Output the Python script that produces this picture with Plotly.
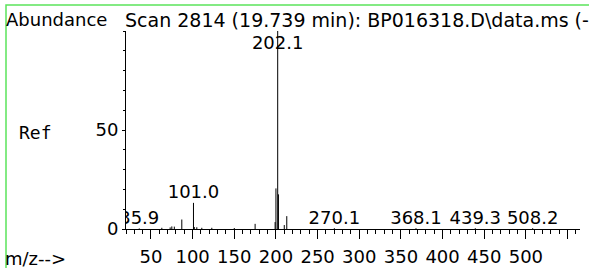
import plotly.graph_objects as go

# ---- data ----
mz = [35.9, 63, 73, 75, 78, 87, 101.0, 102, 105, 111, 123, 150, 175, 199, 200, 202.1, 203, 210, 213,
      270.1, 368.1, 439.3, 508.2]
abund = [0.3, 0.6, 0.8, 1.3, 1.2, 4.8, 13.2, 1.0, 0.9, 0.6, 0.6, 0.5, 2.6, 3.5, 20.5, 100, 17.5, 2.0, 6.5,
         0.4, 0.4, 0.4, 0.4]
label_mz = [35.9, 101.0, 202.1, 270.1, 368.1, 439.3, 508.2]
label_abund = [0.3, 13.2, 100, 0.4, 0.4, 0.4, 0.4]
label_text = ["35.9", "101.0", "202.1", "270.1", "368.1", "439.3", "508.2"]
x_tickvals = [50, 100, 150, 200, 250, 300, 350, 400, 450, 500, 550]
x_ticktext = ["50", "100", "150", "200", "250", "300", "350", "400", "450", "500", ""]
y_tickvals = [0, 50]
y_ticktext = ["0", "50"]
title_text = "Scan 2814 (19.739 min): BP016318.D\\data.ms (-)"

W, H = 589, 268
L, R, T, B = 126, 9, 31, 39
PW, PH = W - L - R, H - T - B

def px(x):
    return (x - L) / PW

def py(y):
    return (H - B - y) / PH

FONT = "DejaVu Sans"

# stick spectrum
xs, ys = [], []
for m, a in zip(mz, abund):
    xs += [m, m, None]
    ys += [0, a, None]

fig = go.Figure()
fig.add_trace(go.Scatter(x=xs, y=ys, mode="lines", line=dict(color="black", width=1),
                         hoverinfo="skip", showlegend=False))
fig.add_trace(go.Scatter(x=label_mz, y=[min(a, 88.5) for a in label_abund], mode="text",
                         text=label_text, textposition="top center",
                         textfont=dict(family=FONT, size=18, color="black"),
                         cliponaxis=True, showlegend=False, hoverinfo="skip"))

fig.update_layout(
    width=W, height=H, autosize=False,
    margin=dict(l=L, r=R, t=T, b=B, pad=0, autoexpand=False),
    paper_bgcolor="white", plot_bgcolor="white",
    font=dict(family=FONT, size=18, color="black"),
    xaxis=dict(range=[20, 565], showgrid=False, zeroline=False, showline=True, automargin=False,
               linecolor="black", linewidth=1, ticks="outside", ticklen=9, tickcolor="black",
               tickmode="array", tickvals=x_tickvals, ticktext=x_ticktext,
               minor=dict(dtick=10, tick0=0, ticks="outside", ticklen=4, tickcolor="black"),
               tickfont=dict(family=FONT, size=18, color="black"), ticklabelstandoff=2),
    yaxis=dict(range=[0, 100], showgrid=False, zeroline=False, showline=True, automargin=False,
               linecolor="black", linewidth=1, ticks="outside", ticklen=3, tickcolor="black",
               tickmode="array", tickvals=y_tickvals, ticktext=y_ticktext,
               minor=dict(dtick=10, tick0=0, ticks="outside", ticklen=2, tickcolor="black"),
               tickfont=dict(family=FONT, size=18, color="black")),
    shapes=[dict(type="rect", xref="paper", yref="paper",
                 x0=px(6), x1=px(W + 20), y0=py(H + 20), y1=py(5),
                 line=dict(color="#5be35b", width=1.5), fillcolor="rgba(0,0,0,0)", layer="below")],
    annotations=[
        dict(text="Abundance", xref="paper", yref="paper", x=px(4), y=py(20),
             xanchor="left", yanchor="middle", showarrow=False,
             font=dict(family=FONT, size=18, color="black")),
        dict(text=title_text, xref="paper", yref="paper", x=px(123), y=py(20),
             xanchor="left", yanchor="middle", showarrow=False,
             font=dict(family=FONT, size=19, color="black")),
        dict(text="Ref", xref="paper", yref="paper", x=px(17), y=py(132),
             xanchor="left", yanchor="middle", showarrow=False,
             font=dict(family="DejaVu Sans Mono", size=18, color="black")),
        dict(text="m/z-->", xref="paper", yref="paper", x=px(3), y=py(258),
             xanchor="left", yanchor="middle", showarrow=False,
             font=dict(family=FONT, size=18, color="black")),
    ],
)

fig.write_html("out.html", config={"displayModeBar": False},
               post_script="document.body.style.margin='0';document.body.style.padding='0';")
